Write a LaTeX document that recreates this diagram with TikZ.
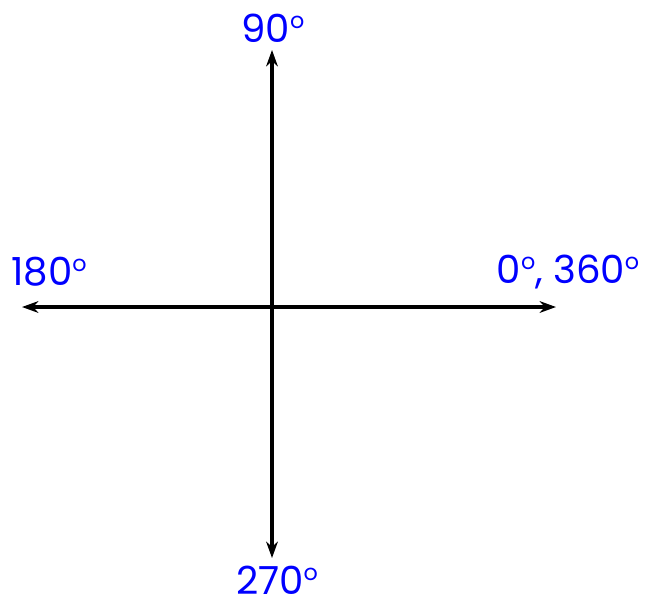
\documentclass[tikz,border=0pt]{standalone}
\usepackage{fontspec}
\setmainfont{Poppins}
\usetikzlibrary{positioning,arrows.meta}

\newcommand{\dg}{\raisebox{12pt}{\fontsize{19}{19}\selectfont o}}

\tikzset{
  axis/.style={line width=3.4pt, {Stealth[length=14pt,width=10pt]}-{Stealth[length=14pt,width=10pt]}},
  deglabel/.style={text=blue, font=\fontsize{33}{40}\selectfont, inner sep=0pt}
}

\begin{document}
\begin{tikzpicture}[x=0.03cm, y=-0.03cm]
        \useasboundingbox (0,0) rectangle (652,607);

        % Ends of the axes
        \coordinate (west) at (22,307);
        \coordinate (east) at (556,307);
        \coordinate (north) at (272,50);
        \coordinate (south) at (272,558);

        % Axes
        \draw[axis] (west) -- (east);
        \draw[axis] (south) -- (north);

        % Labels
        \node[deglabel] (ninety) at (273,28) {90\dg};
        \node[deglabel] (oneeighty) at (49,272) {180\dg};
        \node[deglabel] (zero) at (568,272) {0\dg, 360\dg};
        \node[deglabel] (twoseventy) at (277,580) {270\dg};
    \end{tikzpicture}
\end{document}
